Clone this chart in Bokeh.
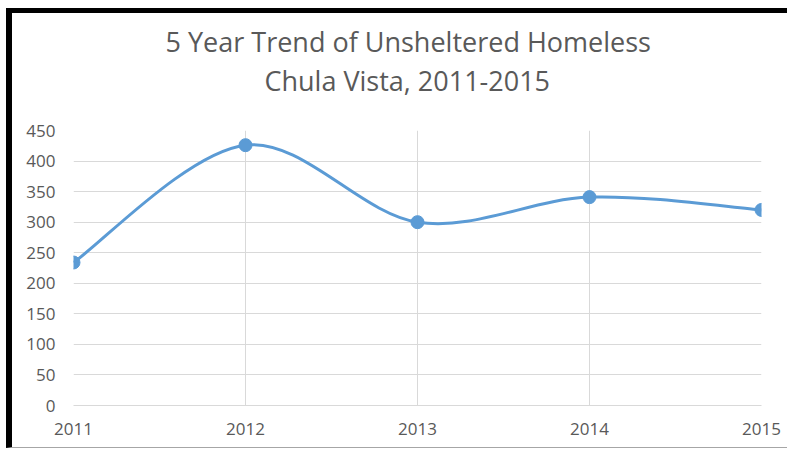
from bokeh.plotting import figure
from bokeh.models import Title, FixedTicker, Range1d
from bokeh.embed import file_html
from bokeh.resources import INLINE

# ---- data ----
years = [2011, 2012, 2013, 2014, 2015]
counts = [234, 426, 300, 341, 320]
y_ticks = [0, 50, 100, 150, 200, 250, 300, 350, 400, 450]
title_lines = ["5 Year Trend of Unsheltered Homeless", "Chula Vista, 2011-2015"]

BLUE = "#5b9bd5"
GRID = "#d9d9d9"
TXT = "#595959"
FONT = "Open Sans"

W, H = 781, 440
p = figure(width=W, height=H,
           x_range=Range1d(years[0], years[-1]), y_range=Range1d(y_ticks[0], y_ticks[-1]),
           output_backend="svg", toolbar_location=None,
           min_border_left=61, min_border_right=32, min_border_top=117, min_border_bottom=48)
p.styles = {"margin-left": "6px", "margin-top": "8px",
            "border-left": "6px solid black", "border-top": "5px solid black",
            "border-bottom": "1px solid #a6a6a6"}
p.outline_line_color = None
p.background_fill_color = "white"
p.border_fill_color = "white"

# two-line title (first added sits closest to the frame); a blank spacer gives the gap
spacer = Title(text=" ", text_font=FONT, text_font_size="14px", standoff=11)
t2 = Title(text=title_lines[1], align="left", offset=191, standoff=0,
           text_font=FONT, text_font_size="27px", text_color=TXT, text_font_style="normal")
t1 = Title(text=title_lines[0], align="left", offset=92, standoff=0,
           text_font=FONT, text_font_size="27px", text_color=TXT, text_font_style="normal")
p.add_layout(spacer, "above")
p.add_layout(t2, "above")
p.add_layout(t1, "above")

# smoothed line (Catmull-Rom style, like Excel's smoothed line)
n = len(years)
x0s, y0s, x1s, y1s, cx0, cy0, cx1, cy1 = [], [], [], [], [], [], [], []
for i in range(n - 1):
    im1 = max(i - 1, 0)
    ip2 = min(i + 2, n - 1)
    x0s.append(years[i]); y0s.append(counts[i])
    x1s.append(years[i + 1]); y1s.append(counts[i + 1])
    cx0.append(years[i] + (years[i + 1] - years[im1]) / 6)
    cy0.append(counts[i] + (counts[i + 1] - counts[im1]) / 6)
    cx1.append(years[i + 1] - (years[ip2] - years[i]) / 6)
    cy1.append(counts[i + 1] - (counts[ip2] - counts[i]) / 6)
p.bezier(x0=x0s, y0=y0s, x1=x1s, y1=y1s, cx0=cx0, cy0=cy0, cx1=cx1, cy1=cy1,
         line_color=BLUE, line_width=3)
p.scatter(years, counts, size=13, fill_color=BLUE, line_color=BLUE)

# axes
p.xaxis.ticker = FixedTicker(ticks=years)
p.yaxis.ticker = FixedTicker(ticks=y_ticks)
for ax in (p.xaxis, p.yaxis):
    ax.major_tick_line_color = None
    ax.minor_tick_line_color = None
    ax.major_tick_out = 0
    ax.major_tick_in = 0
    ax.major_label_text_font = FONT
    ax.major_label_text_font_size = "17px"
    ax.major_label_text_color = TXT
p.yaxis.axis_line_color = None
p.xaxis.axis_line_color = GRID
p.yaxis.major_label_standoff = 18
p.xaxis.major_label_standoff = 17

p.xgrid.grid_line_color = GRID
p.ygrid.grid_line_color = GRID
p.xgrid.ticker = FixedTicker(ticks=years)
p.ygrid.ticker = FixedTicker(ticks=y_ticks)

open("out.html", "w").write(file_html(p, INLINE))
